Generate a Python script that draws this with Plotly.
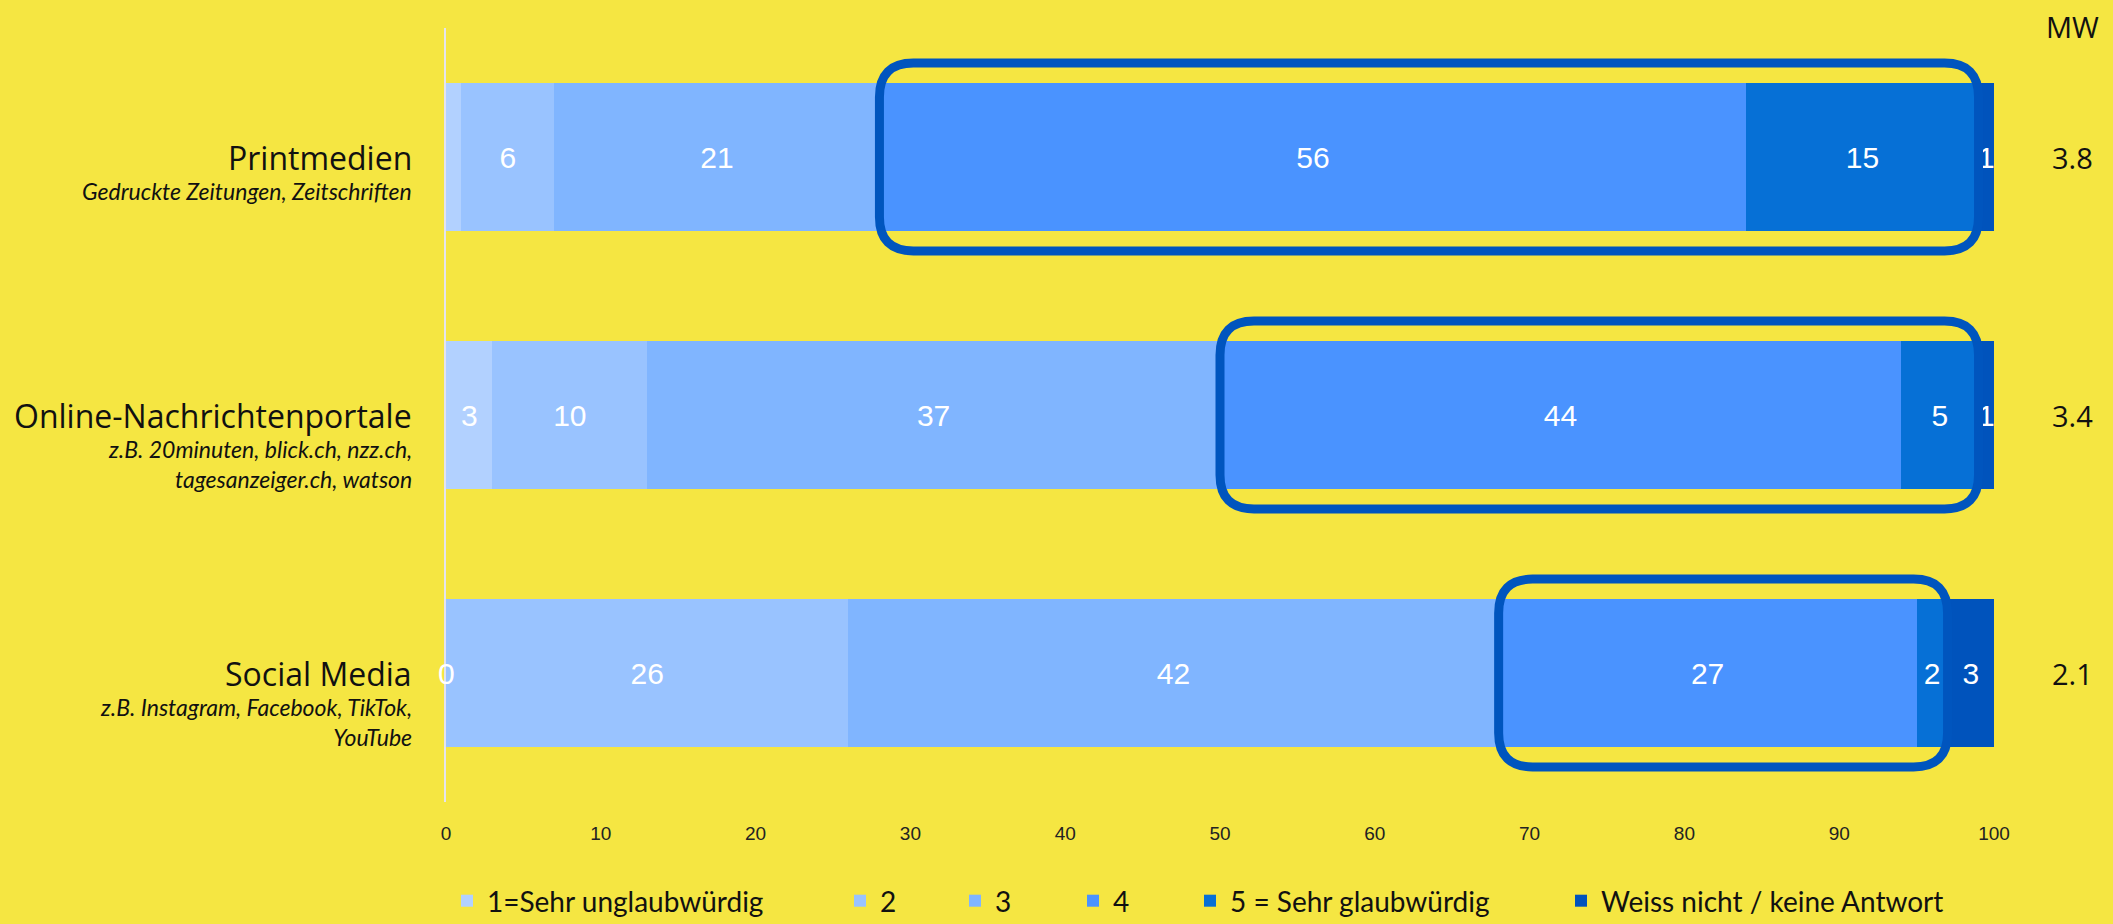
import plotly.graph_objects as go

# ---------------- data ----------------
categories = ["Printmedien", "Online-Nachrichtenportale", "Social Media"]
subtitles = [
    "Gedruckte Zeitungen, Zeitschriften",
    "z.B. 20minuten, blick.ch, nzz.ch,<br>tagesanzeiger.ch, watson",
    "z.B. Instagram, Facebook, TikTok,<br>YouTube",
]
series_names = ["1=Sehr unglaubwürdig", "2", "3", "4", "5 = Sehr glaubwürdig",
                "Weiss nicht / keine Antwort"]
s1 = [1, 3, 0]
s2 = [6, 10, 26]
s3 = [21, 37, 42]
s4 = [56, 44, 27]
s5 = [15, 5, 2]
s6 = [1, 1, 3]
series_values = [s1, s2, s3, s4, s5, s6]
# labels shown in the bars (Printmedien's first segment carries no label)
show_label = [
    [False, True, True],
    [True, True, True],
    [True, True, True],
    [True, True, True],
    [True, True, True],
    [True, True, True],
]
mean_values = ["3.8", "3.4", "2.1"]
x_ticks = [0, 10, 20, 30, 40, 50, 60, 70, 80, 90, 100]

# ---------------- style ----------------
colors = ["#B2D1FF", "#99C3FF", "#80B5FF", "#4A93FF", "#0670D6", "#0053BC"]
bg = "#F5E642"
box_color = "#0055BE"
W, H = 2113, 924
ml, mr, mt, mb = 446, 119, 28, 122
plot_w = W - ml - mr
plot_h = H - mt - mb
legend_text_x = [492, 885, 1000, 1118, 1235, 1606]
legend_center_y = 901
label_font = dict(family="Liberation Sans, Arial", size=30, color="white")

fig = go.Figure()
ypos = list(range(len(categories)))
for k, (name, vals) in enumerate(zip(series_names, series_values)):
    txt = [str(v) if show_label[k][i] else "" for i, v in enumerate(vals)]
    lname = "legend" if k == 0 else f"legend{k+1}"
    fig.add_trace(go.Bar(
        y=ypos, x=vals, orientation="h", name=name,
        marker=dict(color=colors[k], line=dict(width=0)),
        width=0.57,
        text=txt, textposition="inside", insidetextanchor="middle",
        textangle=0, constraintext="none", cliponaxis=False,
        textfont=label_font,
        legend=lname, hoverinfo="x+name",
    ))

annotations = []
# zero-width segments still get their label, at the segment's position
for i in range(len(categories)):
    start = 0
    for k, vals in enumerate(series_values):
        if vals[i] == 0 and show_label[k][i]:
            annotations.append(dict(x=start, xref="x", y=i, yref="y",
                                    text=str(vals[i]), showarrow=False,
                                    xanchor="center", yanchor="middle",
                                    font=label_font))
        start += vals[i]

# highlight boxes around categories 4 and 5
shapes = []
rx = 34 / (plot_w / 100.0)
ry = 34 / (plot_h / 3.0)
half = 0.364
for i in range(len(categories)):
    x0 = s1[i] + s2[i] + s3[i]
    x1 = x0 + s4[i] + s5[i]
    y0 = i - half
    y1 = i + half
    path = (f"M {x0+rx},{y0} L {x1-rx},{y0} Q {x1},{y0} {x1},{y0+ry} "
            f"L {x1},{y1-ry} Q {x1},{y1} {x1-rx},{y1} L {x0+rx},{y1} "
            f"Q {x0},{y1} {x0},{y1-ry} L {x0},{y0+ry} Q {x0},{y0} {x0+rx},{y0} Z")
    shapes.append(dict(type="path", path=path, xref="x", yref="y",
                       line=dict(color=box_color, width=9), layer="above"))

for i, (cat, sub, mw) in enumerate(zip(categories, subtitles, mean_values)):
    annotations.append(dict(x=0, xref="paper", y=i, yref="y", text=cat,
                            xanchor="right", yanchor="middle", xshift=-32,
                            showarrow=False,
                            font=dict(family="Open Sans", size=32, color="#111111")))
    annotations.append(dict(x=0, xref="paper", y=i, yref="y", text=sub,
                            xanchor="right", yanchor="top", align="right",
                            xshift=-32, yshift=-18, showarrow=False,
                            font=dict(family="Lato", size=23, color="#111111",
                                      style="italic")))
    annotations.append(dict(x=1, xref="paper", y=i, yref="y", text=mw,
                            xanchor="center", yanchor="middle", xshift=78,
                            showarrow=False,
                            font=dict(family="Open Sans", size=29, color="#111111")))
annotations.append(dict(x=1, xref="paper", y=1, yref="paper", text="MW",
                        xanchor="center", yanchor="middle", xshift=78, yshift=2,
                        showarrow=False,
                        font=dict(family="Open Sans", size=29, color="#111111")))

layout_legends = {}
for k in range(len(series_names)):
    key = "legend" if k == 0 else f"legend{k+1}"
    layout_legends[key] = dict(
        x=(legend_text_x[k] - 45 - ml) / plot_w, xanchor="left",
        y=(plot_h - (legend_center_y - mt)) / plot_h, yanchor="middle",
        orientation="h", bgcolor="rgba(0,0,0,0)", itemwidth=30,
        font=dict(family="Lato", size=28, color="#111111"),
    )

fig.update_layout(
    width=W, height=H,
    margin=dict(l=ml, r=mr, t=mt, b=mb, pad=0, autoexpand=False),
    paper_bgcolor=bg, plot_bgcolor=bg,
    barmode="stack", bargap=0.43,
    showlegend=True,
    shapes=shapes, annotations=annotations,
    uniformtext=dict(minsize=30, mode="show"),
    xaxis=dict(range=[0, 100], tickvals=x_ticks, showgrid=False, zeroline=False,
               showline=False, ticks="", ticklabelstandoff=18,
               tickfont=dict(family="Liberation Sans, Arial", size=19, color="#222222")),
    yaxis=dict(range=[2.5, -0.5], showticklabels=False, showgrid=False,
               zeroline=False, showline=True, linecolor="#E4E4EE", linewidth=2,
               ticks=""),
    **layout_legends,
)

fig.write_html("out.html", config={"displayModeBar": False},
               post_script="document.body.style.margin='0';")
